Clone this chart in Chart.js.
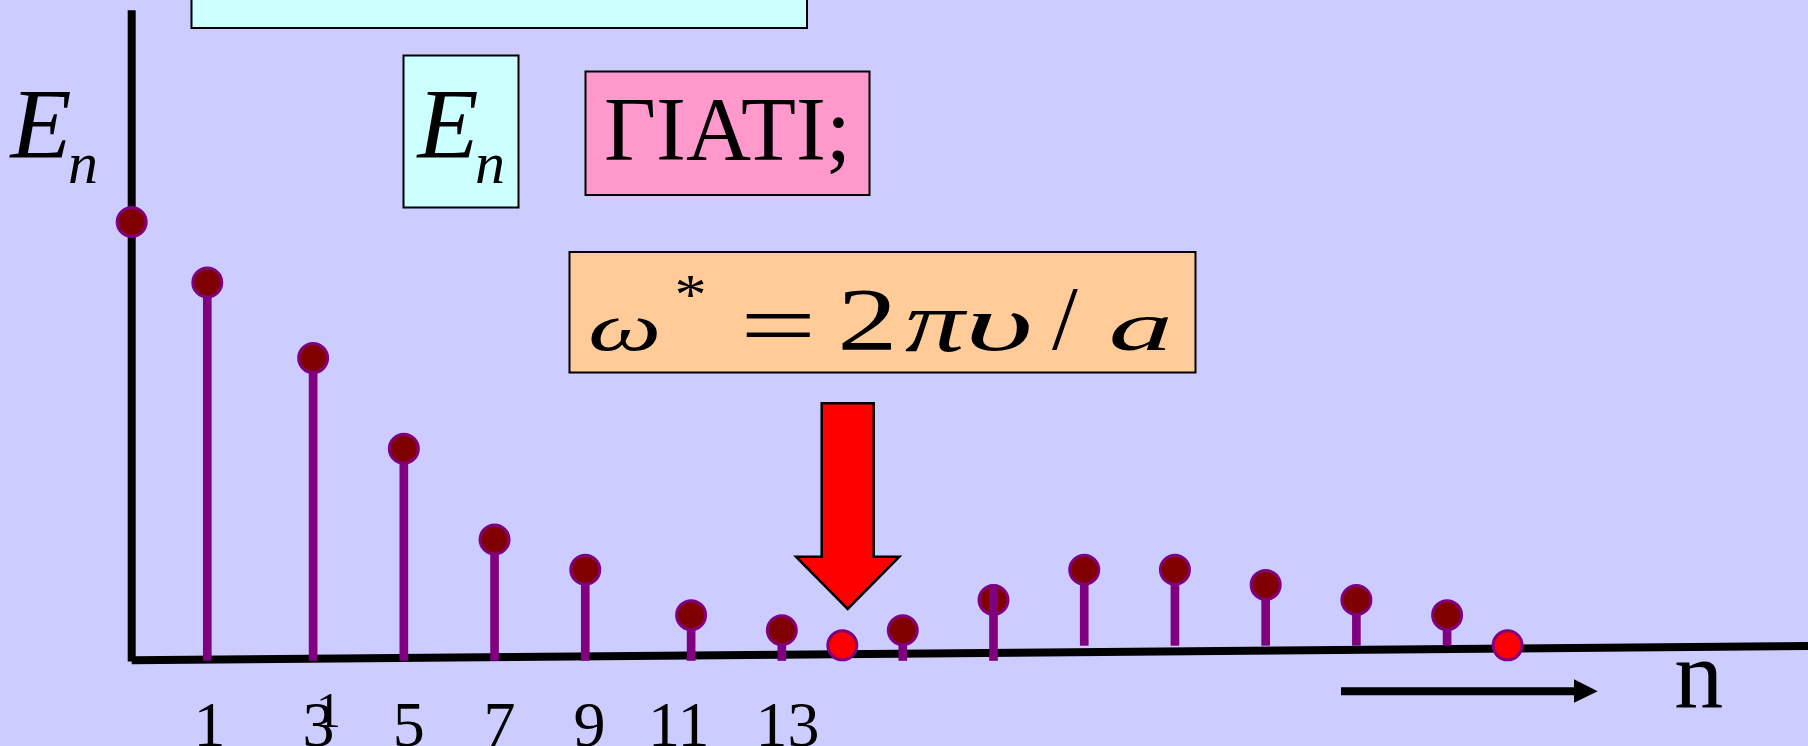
<!DOCTYPE html>
<html>
<head>
<meta charset="utf-8">
<script src="https://cdn.jsdelivr.net/npm/chart.js@4.4.1/dist/chart.umd.min.js"></script>
<style>
  html, body { margin: 0; padding: 0; background: #ccccff; overflow: hidden; }
  canvas { display: block; }
</style>
</head>
<body>
<canvas id="graphCanvas" width="1808" height="746"></canvas>
<script>
const ctx = document.getElementById('graphCanvas').getContext('2d');

// position of each level along n (slide grid units) and its energy E_n
const nPos   = [0, 5, 12, 18, 24, 30, 37, 43, 47, 51, 57, 63, 69, 75, 81, 87, 91];
const energy = [29, 25, 20, 14, 8, 6, 3, 2, 1, 2, 4, 6, 6, 5, 4, 3, 1];
// stems: base and top of each stem, null = no stem
const stemBase = [null, 0, 0, 0, 0, 0, 0, 0, null, 0, 0, 1, 1, 1, 1, 1, null];
const stemTop  = [null, 25, 20, 14, 8, 6, 3, 2, null, 2, 5, 6, 6, 5, 4, 3, null];
// this stem is drawn over its marker
const stemOver = [false, false, false, false, false, false, false, false, false, false, true, false, false, false, false, false, false];
// the gap points (red)
const gapPoint = [false, false, false, false, false, false, false, false, true, false, false, false, false, false, false, false, true];

// n-axis tick labels
const tickPos    = [5.15, 12.36, 18.32, 24.32, 30.28, 36.18, 43.37];
const tickLabels = ['1', '3', '5', '7', '9', '11', '13'];

// slanted n axis (data units) and vertical axis top
const axisStart = { x: 0, y: 0.01 };
const axisEnd   = { x: 111, y: 0.96 };
const eAxisTop  = 43;

function stemData(over) {
    const out = [];
    nPos.forEach((x, i) => {
        if (stemBase[i] !== null && stemOver[i] === over) {
            out.push({ x: x, y: [stemBase[i], stemTop[i]] });
        }
    });
    return out;
}

const SERIF = '"Liberation Serif", "Times New Roman", serif';

function box(c, x0, y0, x1, y1, fill) {
    c.fillStyle = fill;
    c.fillRect(x0, y0, x1 - x0, y1 - y0);
    c.lineWidth = 2;
    c.strokeStyle = '#000';
    c.strokeRect(x0, y0, x1 - x0, y1 - y0);
}

function txt(c, s, x, y, font, align) {
    c.font = font;
    c.textAlign = align || 'center';
    c.textBaseline = 'alphabetic';
    c.fillStyle = '#000';
    c.fillText(s, x, y);
}

// draw a glyph stretched so its ink fills the given box (the slide's equation is stretched)
function fitGlyph(c, s, style, x0, y0, x1, y1) {
    c.save();
    c.font = style + ' 100px ' + SERIF;
    c.textAlign = 'left';
    c.textBaseline = 'alphabetic';
    const m = c.measureText(s);
    const L = m.actualBoundingBoxLeft, R = m.actualBoundingBoxRight;
    const A = m.actualBoundingBoxAscent, D = m.actualBoundingBoxDescent;
    c.translate(x0, y0);
    c.scale((x1 - x0) / (L + R), (y1 - y0) / (A + D));
    c.fillStyle = '#000';
    c.fillText(s, L, A);
    c.restore();
}

const slidePlugin = {
    id: 'slide',
    beforeDraw(chart) {
        const c = chart.ctx;
        c.save();
        c.fillStyle = '#ccccff';
        c.fillRect(0, 0, chart.width, chart.height);
        c.restore();
    },
    beforeDatasetsDraw(chart) {
        const c = chart.ctx;
        const { x, y } = chart.scales;
        c.save();
        c.strokeStyle = '#000';
        c.lineWidth = 8;
        c.lineCap = 'butt';
        // E axis
        c.beginPath();
        c.moveTo(x.getPixelForValue(0), y.getPixelForValue(eAxisTop));
        c.lineTo(x.getPixelForValue(0), y.getPixelForValue(0) + 1);
        c.stroke();
        // n axis (slightly tilted, as on the slide)
        c.beginPath();
        c.moveTo(x.getPixelForValue(axisStart.x), y.getPixelForValue(axisStart.y));
        c.lineTo(x.getPixelForValue(axisEnd.x), y.getPixelForValue(axisEnd.y));
        c.stroke();
        c.restore();
    },
    afterDraw(chart) {
        const c = chart.ctx;
        const { x } = chart.scales;
        c.save();

        // boxes
        box(c, 191.5, -5, 807, 28, '#ccffff');
        box(c, 403.5, 55.5, 518.5, 207.5, '#ccffff');
        box(c, 585.5, 71.5, 869.5, 195, '#ff99cc');
        box(c, 569.5, 252, 1195.5, 372.5, '#ffcc99');

        // E_n axis label
        txt(c, 'E', 41, 156.7, 'italic 100px ' + SERIF);
        txt(c, 'n', 83, 183.3, 'italic 60px ' + SERIF);
        // E_n in box
        txt(c, 'E', 448, 156.7, 'italic 100px ' + SERIF);
        txt(c, 'n', 490, 183.3, 'italic 60px ' + SERIF);

        // ΓΙΑΤΙ;
        txt(c, 'ΓΙΑΤΙ;', 727.5, 160, '90px ' + SERIF);

        // ω* = 2πυ / a
        fitGlyph(c, 'ω', 'italic', 591, 318.5, 657.5, 351);
        fitGlyph(c, '*', 'normal', 677, 277, 704, 298);
        fitGlyph(c, '=', 'normal', 745.5, 314.5, 810.5, 337);
        fitGlyph(c, '2', 'normal', 842, 290.5, 891.5, 350);
        fitGlyph(c, 'π', 'italic', 905, 311, 968, 351.5);
        fitGlyph(c, 'υ', 'italic', 971, 313, 1029, 351);
        fitGlyph(c, '/', 'normal', 1052, 289.5, 1078, 351);
        fitGlyph(c, 'a', 'italic', 1111, 317.5, 1169, 351);

        // red arrow pointing at the gap
        c.beginPath();
        c.moveTo(821.7, 403.3);
        c.lineTo(873.7, 403.3);
        c.lineTo(873.7, 556.7);
        c.lineTo(899.3, 556.7);
        c.lineTo(847.7, 609);
        c.lineTo(796, 556.7);
        c.lineTo(821.7, 556.7);
        c.closePath();
        c.fillStyle = '#ff0000';
        c.fill();
        c.lineWidth = 2.5;
        c.lineJoin = 'miter';
        c.strokeStyle = '#000';
        c.stroke();

        // direction arrow for n
        c.lineWidth = 8;
        c.beginPath();
        c.moveTo(1341, 691.3);
        c.lineTo(1576, 691.3);
        c.stroke();
        c.beginPath();
        c.moveTo(1574, 679.3);
        c.lineTo(1597.7, 691.3);
        c.lineTo(1574, 702.7);
        c.closePath();
        c.fillStyle = '#000';
        c.fill();
        txt(c, 'n', 1698.7, 707, '98px ' + SERIF);

        // tick labels along n
        tickPos.forEach((v, i) => {
            txt(c, tickLabels[i], x.getPixelForValue(v), 746, '64px ' + SERIF);
        });
        // stray overlapping glyph on the "3"
        txt(c, '1', x.getPixelForValue(tickPos[1]) + 10, 727, '50px ' + SERIF);

        c.restore();
    }
};

const graph = new Chart(ctx, {
    type: 'bar',
    data: {
        datasets: [
            {
                type: 'scatter',
                label: 'E_n',
                data: nPos.map((x, i) => ({ x: x, y: energy[i] })),
                pointRadius: 14.5,
                pointHoverRadius: 14.5,
                pointBorderWidth: 3,
                pointBackgroundColor: gapPoint.map(g => g ? '#ff0000' : '#800000'),
                pointBorderColor: '#800080',
                order: 2
            },
            {
                label: 'stems',
                data: stemData(false),
                backgroundColor: '#800080',
                barThickness: 8,
                grouped: false,
                borderWidth: 0,
                order: 3
            },
            {
                label: 'stems over',
                data: stemData(true),
                backgroundColor: '#800080',
                barThickness: 8,
                grouped: false,
                borderWidth: 0,
                order: 1
            }
        ]
    },
    options: {
        responsive: false,
        animation: false,
        devicePixelRatio: 1,
        layout: { padding: 0, autoPadding: false },
        scales: {
            x: { type: 'linear', min: -8.71, max: 110.87, offset: false, display: false },
            y: { type: 'linear', min: -5.655, max: 43.68, display: false }
        },
        plugins: {
            legend: { display: false },
            tooltip: { enabled: false }
        }
    },
    plugins: [slidePlugin]
});
</script>
</body>
</html>
